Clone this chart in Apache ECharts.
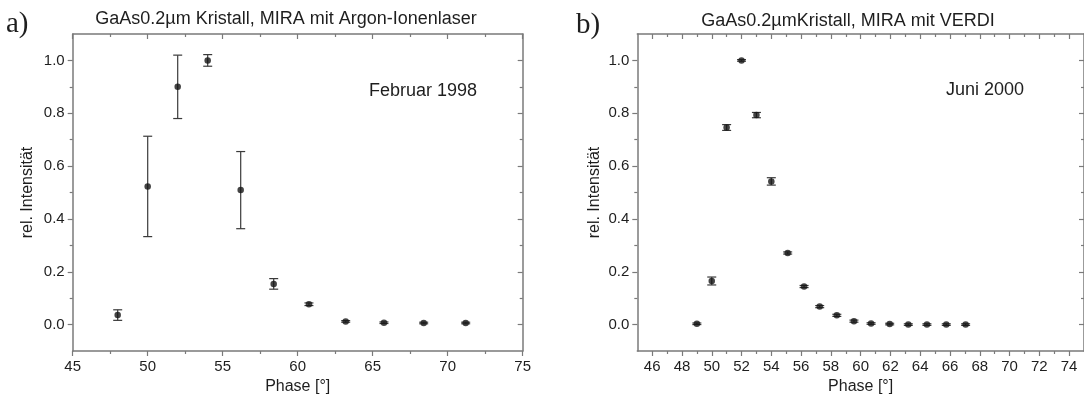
<!DOCTYPE html>
<html>
<head>
<meta charset="utf-8">
<script src="https://cdn.jsdelivr.net/npm/echarts@6/dist/echarts.min.js"></script>
<style>
  html, body { margin: 0; padding: 0; background: #fff; }
  #chart { width: 1084px; height: 400px; }
</style>
</head>
<body>
<div id="chart"></div>
<script>
// a) Februar 1998, MIRA mit Argon-Ionenlaser
var phaseA = [48, 50, 52, 54, 56.2, 58.4, 60.75, 63.2, 65.75, 68.4, 71.2];
var intA   = [0.036, 0.523, 0.9, 1.0, 0.509, 0.154, 0.077, 0.012, 0.007, 0.006, 0.006];
var errA   = [0.02, 0.19, 0.12, 0.022, 0.146, 0.02, 0.005, 0.003, 0.003, 0.003, 0.003];

// b) Juni 2000, MIRA mit VERDI
var phaseB = [49, 50, 51, 52, 53, 54, 55.1, 56.2, 57.25, 58.4, 59.55, 60.7, 61.95, 63.2, 64.45, 65.75, 67.05];
var intB   = [0.003, 0.165, 0.746, 1.0, 0.793, 0.542, 0.271, 0.144, 0.068, 0.035, 0.013, 0.004, 0.002, 0, 0, 0, 0];
var errB   = [0.003, 0.015, 0.011, 0.003, 0.01, 0.014, 0.004, 0.004, 0.004, 0.004, 0.004, 0.003, 0.003, 0.003, 0.003, 0.003, 0.003];

// tick labels
var xMajorA = [45, 50, 55, 60, 65, 70, 75];
var xMinorA = [47.5, 52.5, 57.5, 62.5, 67.5, 72.5];
var xMajorB = [46, 48, 50, 52, 54, 56, 58, 60, 62, 64, 66, 68, 70, 72, 74];
var xMinorB = [47, 49, 51, 53, 55, 57, 59, 61, 63, 65, 67, 69, 71, 73];
var yMajor  = [0, 0.2, 0.4, 0.6, 0.8, 1.0];
var yMinor  = [0.1, 0.3, 0.5, 0.7, 0.9];

var axisColor = '#7a7a7a';
var textColor = '#1e1e1e';
var font = 'Liberation Sans';

function pts(xs, ys, es) {
    return xs.map(function (x, i) { return [x, ys[i], es[i]]; });
}

// four axes per side: labelled major, minor, mirrored major, mirrored minor
function axesFor(dim, g, min, max, majors, minors, name, gap) {
    var lower = dim === 'x' ? 'bottom' : 'left';
    var upper = dim === 'x' ? 'top' : 'right';
    var line = {show: true, onZero: false, lineStyle: {color: axisColor, width: 1.5}};
    var noLine = {show: false, onZero: false};
    var tick = function (vals, len, inside) {
        return {show: true, inside: inside, length: len, customValues: vals,
                lineStyle: {color: axisColor, width: 1.2}};
    };
    var base = function (pos) {
        return {gridIndex: g, type: 'value', position: pos, min: min, max: max,
                splitLine: {show: false}, axisLabel: {show: false}};
    };
    var main = base(lower);
    main.axisLine = line;
    main.axisTick = tick(majors, 5, false);
    main.axisLabel = {
        show: true, customValues: majors, margin: 8,
        color: textColor, fontFamily: font, fontSize: 15,
        formatter: function (v) { return dim === 'x' ? String(v) : v.toFixed(1); }
    };
    main.name = name;
    main.nameLocation = 'middle';
    main.nameGap = gap;
    main.nameTextStyle = {color: textColor, fontFamily: font, fontSize: 16};

    var minor = base(lower);
    minor.axisLine = noLine;
    minor.axisTick = tick(minors, 3, false);

    var top = base(upper);
    top.axisLine = line;
    top.axisTick = tick(majors, 5, true);

    var topMinor = base(upper);
    topMinor.axisLine = noLine;
    topMinor.axisTick = tick(minors, 3, true);

    return [main, minor, top, topMinor];
}

function errBars(params, api) {
    var x = api.value(0), y = api.value(1), e = api.value(2);
    var hi = api.coord([x, y + e]);
    var lo = api.coord([x, y - e]);
    var w = 4.5;
    var st = {stroke: '#3a3a3a', lineWidth: 1.2};
    return {
        type: 'group',
        children: [
            {type: 'line', shape: {x1: hi[0], y1: hi[1], x2: lo[0], y2: lo[1]}, style: st},
            {type: 'line', shape: {x1: hi[0] - w, y1: hi[1], x2: hi[0] + w, y2: hi[1]}, style: st},
            {type: 'line', shape: {x1: lo[0] - w, y1: lo[1], x2: lo[0] + w, y2: lo[1]}, style: st}
        ]
    };
}

var xAxes = axesFor('x', 0, 45, 75, xMajorA, xMinorA, 'Phase [°]', 28)
    .concat(axesFor('x', 1, 45, 75, xMajorB, xMinorB, 'Phase [°]', 28));
var yAxes = axesFor('y', 0, -0.1, 1.1, yMajor, yMinor, 'rel. Intensität', 37)
    .concat(axesFor('y', 1, -0.1, 1.1, yMajor, yMinor, 'rel. Intensität', 35));

function txt(t, x, y, size, fam, align) {
    return {
        type: 'text', x: x, y: y, silent: true,
        style: {text: t, fill: textColor, fontSize: size, fontFamily: fam,
                align: align || 'left', verticalAlign: 'middle'}
    };
}

var option = {
    backgroundColor: '#fff',
    animation: false,
    grid: [
        {left: 72.7, top: 34, width: 450, height: 317},
        {left: 637.3, top: 34, width: 451, height: 317}
    ],
    xAxis: xAxes,
    yAxis: yAxes,
    graphic: [
        txt('a)', 6, 24, 29, 'Liberation Serif'),
        txt('b)', 576, 25, 29, 'Liberation Serif'),
        txt('GaAs0.2µm Kristall, MIRA mit Argon-Ionenlaser', 286, 19, 18, font, 'center'),
        txt('GaAs0.2µmKristall, MIRA mit VERDI', 848, 21, 18, font, 'center'),
        txt('Februar 1998', 369, 91, 18, font),
        txt('Juni 2000', 946, 90, 18, font)
    ],
    series: [
        {type: 'custom', xAxisIndex: 0, yAxisIndex: 0, data: pts(phaseA, intA, errA),
         encode: {x: 0, y: 1}, renderItem: errBars, z: 2},
        {type: 'scatter', xAxisIndex: 0, yAxisIndex: 0, data: pts(phaseA, intA, errA),
         symbol: 'circle', symbolSize: 6.5, itemStyle: {color: '#151515'}, z: 3},
        {type: 'custom', xAxisIndex: 4, yAxisIndex: 4, data: pts(phaseB, intB, errB),
         encode: {x: 0, y: 1}, renderItem: errBars, z: 2},
        {type: 'scatter', xAxisIndex: 4, yAxisIndex: 4, data: pts(phaseB, intB, errB),
         symbol: 'circle', symbolSize: 6.5, itemStyle: {color: '#151515'}, z: 3}
    ]
};

var chart = echarts.init(document.getElementById('chart'));
chart.setOption(option);
window.onresize = chart.resize;
</script>
</body>
</html>
